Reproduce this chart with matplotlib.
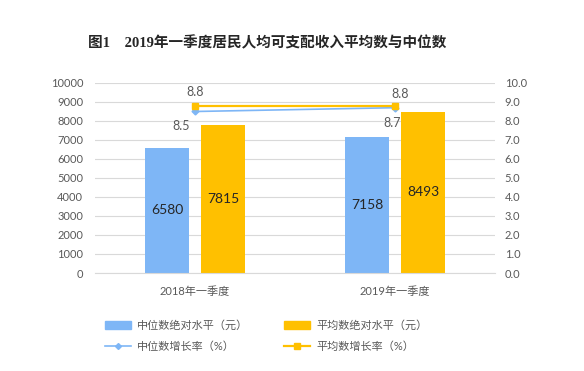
import numpy as np
import matplotlib.pyplot as plt
from matplotlib.patches import Patch
from matplotlib.lines import Line2D

plt.rcParams['font.family'] = ['Lato', 'Noto Sans CJK SC', 'DejaVu Sans']

categories = ["2018年一季度", "2019年一季度"]
median_level = [6580, 7158]
mean_level = [7815, 8493]
median_growth = [8.5, 8.7]
mean_growth = [8.8, 8.8]

blue = "#7EB6F6"
gold = "#FFC000"
grey = "#595959"
grid = "#D9D9D9"

fig = plt.figure(figsize=(5.84, 3.71), dpi=100)
ax = fig.add_axes([95 / 584, 1 - 273 / 371, 400 / 584, 190 / 371])
ax2 = ax.twinx()

x = np.arange(len(categories))
w = 0.22
b1 = ax.bar(x - 0.14, median_level, w, color=blue, zorder=2)
b2 = ax.bar(x + 0.14, mean_level, w, color=gold, zorder=2)
for bars, vals in ((b1, median_level), (b2, mean_level)):
    for r, v in zip(bars, vals):
        ax.text(r.get_x() + r.get_width() / 2, v / 2, str(v), ha="center", va="center",
                fontsize=10, color="#262626")

ax.set_xlim(-0.5, 1.5)
ax.set_ylim(0, 10000)
ax.set_yticks(np.arange(0, 10001, 1000))
ax.set_xticks(x)
ax.set_xticklabels(categories, fontsize=8, color=grey)
ax.tick_params(axis="both", length=0, labelsize=8, labelcolor=grey)
ax.tick_params(axis="x", pad=9)
ax.tick_params(axis="y", pad=8.5)
ax.grid(axis="y", color=grid, linewidth=0.8, zorder=0)
ax.set_axisbelow(True)
for s in ["top", "left", "right"]:
    ax.spines[s].set_visible(False)
ax.spines["bottom"].set_color(grid)

ax2.set_ylim(0, 10)
ax2.set_yticks(np.arange(0, 10.1, 1))
ax2.set_yticklabels([f"{v:.1f}" for v in np.arange(0, 10.1, 1)])
ax2.tick_params(axis="y", length=0, labelsize=8, labelcolor=grey, pad=7)
for s in ax2.spines.values():
    s.set_visible(False)

ax2.plot(x, median_growth, color=blue, linewidth=1.2, marker="D", markersize=3.5, zorder=3)
ax2.plot(x, mean_growth, color=gold, linewidth=1.6, marker="s", markersize=4.5, zorder=3)

med_off = [(-14, -15), (-3, -15)]
mean_off = [(0, 14), (5, 12)]
for i in range(len(x)):
    ax2.annotate(f"{median_growth[i]}", (x[i], median_growth[i]), xytext=med_off[i],
                 textcoords="offset pixels", ha="center", va="center", fontsize=9, color=grey)
    ax2.annotate(f"{mean_growth[i]}", (x[i], mean_growth[i]), xytext=mean_off[i],
                 textcoords="offset pixels", ha="center", va="center", fontsize=9, color=grey)

fig.text(267 / 584, 1 - 43 / 371, "图1　2019年一季度居民人均可支配收入平均数与中位数",
         ha="center", va="center", fontsize=10.5, fontweight="bold", color="#262626",
         family=["Liberation Serif", "Noto Sans CJK SC"])

handles = [
    Patch(color=blue, label="中位数绝对水平（元）"),
    Line2D([], [], color=blue, marker="D", markersize=3, linewidth=1.2, label="中位数增长率（%）"),
    Patch(color=gold, label="平均数绝对水平（元）"),
    Line2D([], [], color=gold, marker="s", markersize=4, linewidth=1.6, label="平均数增长率（%）"),
]
leg = fig.legend(handles=handles, ncol=2, loc="center", bbox_to_anchor=(266 / 584, 1 - 336 / 371),
                 frameon=False, fontsize=8, labelcolor=grey, columnspacing=3.2,
                 handlelength=2.4, handleheight=0.8, handletextpad=0.5, labelspacing=0.95)

fig.savefig("out.png", dpi=100)
